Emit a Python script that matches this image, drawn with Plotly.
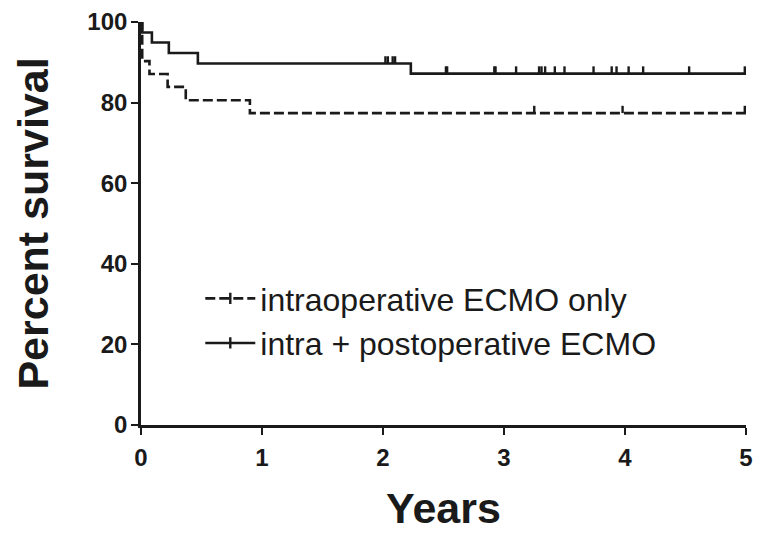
import numpy as np
import plotly.graph_objects as go

# ---- data ----
# intra + postoperative ECMO (solid)
solid_times = [0.0, 0.01, 0.09, 0.23, 0.47, 2.23]
solid_surv = [100.0, 97.4, 94.9, 92.3, 89.7, 87.2]
solid_censor = [2.02, 2.04, 2.08, 2.10, 2.52, 2.53, 2.92, 2.93, 3.10, 3.29, 3.31,
                3.34, 3.42, 3.50, 3.74, 3.89, 3.93, 4.03, 4.15, 4.53, 4.99]

# intraoperative ECMO only (dashed)
dash_times = [0.0, 0.01, 0.07, 0.22, 0.37, 0.90]
dash_surv = [100.0, 90.3, 87.1, 83.9, 80.6, 77.4]
dash_censor = [3.25, 3.98, 4.99]

x_end = 5.0
x_ticks = [0, 1, 2, 3, 4, 5]
y_ticks = [0, 20, 40, 60, 80, 100]

names = ["intraoperative ECMO only", "intra + postoperative ECMO"]

INK = "#1a1a1a"
TICK_H = 1.8  # censor tick height in percent units


def step_level(times, surv, t):
    idx = np.searchsorted(np.array(times), t, side="right") - 1
    return np.array(surv)[idx]


def censor_xy(times, surv, cens):
    xs, ys = [], []
    for c in cens:
        lv = float(step_level(times, surv, c))
        xs += [c, c, None]
        ys += [lv, lv + TICK_H, None]
    return xs, ys


fig = go.Figure()

for times, surv, cens, dash, name in [
    (dash_times, dash_surv, dash_censor, "10px,4px", names[0]),
    (solid_times, solid_surv, solid_censor, "solid", names[1]),
]:
    fig.add_trace(go.Scatter(
        x=list(times) + [x_end], y=list(surv) + [surv[-1]],
        mode="lines", line=dict(shape="hv", color=INK, width=2.6, dash=dash),
        showlegend=False, hoverinfo="skip"))
    cx, cy = censor_xy(times, surv, cens)
    fig.add_trace(go.Scatter(
        x=cx, y=cy, mode="lines", line=dict(color=INK, width=2.4),
        showlegend=False, hoverinfo="skip"))
    # legend entry
    fig.add_trace(go.Scatter(
        x=[None], y=[None], mode="lines+markers", name=name,
        line=dict(color=INK, width=2.6, dash=dash),
        marker=dict(symbol="line-ns-open", size=8, color=INK,
                    line=dict(color=INK, width=2.4)),
        legendgroup=name))

TICKFONT = dict(family="Liberation Sans, Arial, sans-serif",
                size=24, color=INK, weight="bold")
TITLEFONT = dict(family="Liberation Sans, Arial, sans-serif", size=43, color=INK,
                 weight="bold")

# the page body adds an 8px offset; the figure is sized to fit the window
fig.update_layout(
    width=761, height=526,
    margin=dict(l=133, r=23, t=14, b=109),
    paper_bgcolor="white", plot_bgcolor="white",
    showlegend=True,
    legend=dict(x=0.098, y=0.382, xanchor="left", yanchor="top",
                bgcolor="rgba(0,0,0,0)", traceorder="grouped", tracegroupgap=0,
                itemwidth=50,
                font=dict(family="Liberation Sans, Arial, sans-serif", size=32, color=INK)),
    xaxis=dict(range=[0, 5], tickvals=x_ticks, ticktext=[str(v) for v in x_ticks],
               showline=True, linecolor=INK, linewidth=2.6, automargin=False,
               ticks="outside", ticklen=7, tickwidth=2.4, tickcolor=INK,
               showgrid=False, zeroline=False, tickfont=TICKFONT,
               ticklabelstandoff=2, ticklabeloverflow="allow",
               title=dict(text="Years", font=TITLEFONT, standoff=24)),
    yaxis=dict(range=[0, 100], tickvals=y_ticks, ticktext=[str(v) for v in y_ticks],
               showline=True, linecolor=INK, linewidth=2.6, automargin=False,
               ticks="outside", ticklen=7, tickwidth=2.4, tickcolor=INK,
               showgrid=False, zeroline=False, tickfont=TICKFONT,
               ticklabelstandoff=-1, ticklabeloverflow="allow",
               title=dict(text="Percent survival", font=TITLEFONT, standoff=26)),
)

fig.write_html("out.html")
